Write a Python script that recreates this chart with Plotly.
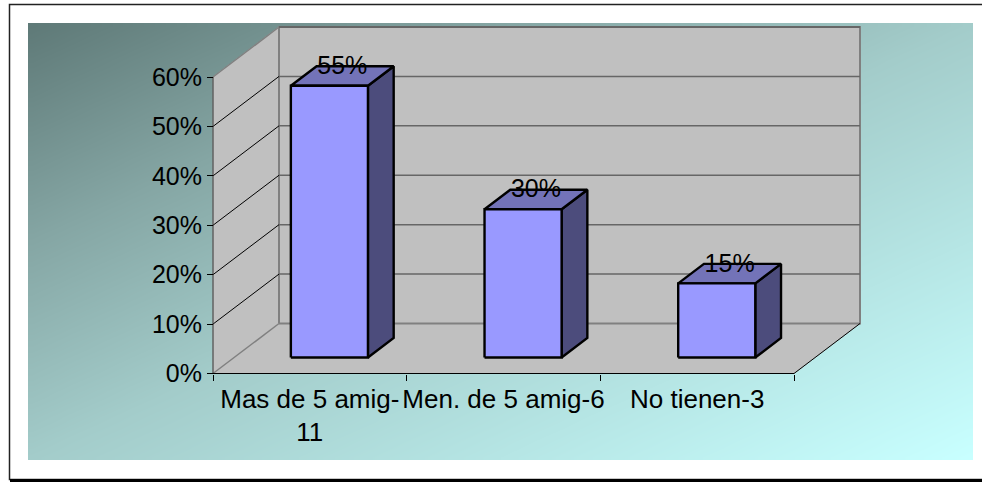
import numpy as np
import plotly.graph_objects as go

CATEGORIES = ["Mas de 5 amig-<br>11", "Men. de 5 amig-6", "No tienen-3"]
VALUES = [55, 30, 15]
Y_TICKS = [0, 10, 20, 30, 40, 50, 60]

WIDTH, HEIGHT = 982, 482
FONT = "Liberation Sans"
FONT_SIZE = 25

# pixel position of the front plot box, the scales are derived from it
X0_PX, X3_PX = 213, 794
Y0_PX, Y60_PX = 373.5, 77
PX_PER_CAT = (X3_PX - X0_PX) / 3
PX_PER_PCT = (Y0_PX - Y60_PX) / 60

# oblique projection of the depth axis
DEPTH_X = 66 / PX_PER_CAT
DEPTH_Y = 50 / PX_PER_PCT
BAR_D0, BAR_D1 = 0.32, 0.71
BAR_W = 0.398
BAR_SHIFT = -0.008

WALL = "#c0c0c0"
EDGE = "#808080"
FRONT, TOP, SIDE = "#9999ff", "#7373b8", "#4c4c7c"


def px_x(px):
    return (px - X0_PX) / PX_PER_CAT


def px_y(px):
    return (Y0_PX - px) / PX_PER_PCT


def proj(x, y, d=0.0):
    return x + d * DEPTH_X, y + d * DEPTH_Y


def poly(pts, fill=None, color="#000000", width=1.0):
    xs = [p[0] for p in pts]
    ys = [p[1] for p in pts]
    return go.Scatter(x=xs, y=ys, mode="lines",
                      fill="toself" if fill else None,
                      fillcolor=fill,
                      line=dict(color=color, width=width),
                      hoverinfo="skip", showlegend=False)


fig = go.Figure()

# gradient panel behind the chart, x and y are brick edges so it stops at the panel
gx = np.linspace(px_x(28), px_x(973), 121)
gy = np.linspace(px_y(460), px_y(23), 71)
u, v = np.meshgrid(np.linspace(0, 1, 120), np.linspace(1, 0, 70))
fig.add_trace(go.Heatmap(x=gx, y=gy, z=(u + v) / 2, zmin=0, zmax=1,
                         zsmooth="best", showscale=False, hoverinfo="skip",
                         colorscale=[[0, "#5f7a78"], [0.25, "#85a6a4"],
                                     [0.5, "#a3ccca"], [1, "#c8ffff"]]))

ymax = Y_TICKS[-1]
# floor, side wall, back wall
fig.add_trace(poly([proj(0, 0), proj(3, 0), proj(3, 0, 1), proj(0, 0, 1), proj(0, 0)],
                   fill=WALL, color=WALL))
fig.add_trace(poly([proj(0, 0), proj(0, ymax), proj(0, ymax, 1), proj(0, 0, 1), proj(0, 0)],
                   fill=WALL, color=WALL))
fig.add_trace(poly([proj(0, 0, 1), proj(3, 0, 1), proj(3, ymax, 1), proj(0, ymax, 1), proj(0, 0, 1)],
                   fill=WALL, color=EDGE, width=2))

# gridlines on both walls
for t in Y_TICKS[1:-1]:
    fig.add_trace(poly([proj(0, t), proj(0, t, 1)], color="#000000", width=1))
    fig.add_trace(poly([proj(0, t, 1), proj(3, t, 1)], color="#666666", width=1.5))
fig.add_trace(poly([proj(0, 0), proj(0, 0, 1)], color=EDGE, width=1.5))
fig.add_trace(poly([proj(0, ymax), proj(0, ymax, 1)], color=EDGE, width=1.5))
fig.add_trace(poly([proj(0, ymax, 1), proj(3, ymax, 1)], color="#666666", width=2))
fig.add_trace(poly([proj(3, 0), proj(3, 0, 1)], color="#000000", width=1))

# axis lines at the front
fig.add_trace(poly([proj(0, 0), proj(0, ymax)], color="#333333", width=1))
fig.add_trace(poly([proj(0, 0), proj(3, 0)], color="#000000", width=1))

# bars
for i, val in enumerate(VALUES):
    x0 = i + 0.5 + BAR_SHIFT - BAR_W / 2
    x1 = i + 0.5 + BAR_SHIFT + BAR_W / 2
    front = [proj(x0, 0, BAR_D0), proj(x1, 0, BAR_D0), proj(x1, val, BAR_D0),
             proj(x0, val, BAR_D0), proj(x0, 0, BAR_D0)]
    side = [proj(x1, 0, BAR_D0), proj(x1, 0, BAR_D1), proj(x1, val, BAR_D1),
            proj(x1, val, BAR_D0), proj(x1, 0, BAR_D0)]
    top = [proj(x0, val, BAR_D0), proj(x1, val, BAR_D0), proj(x1, val, BAR_D1),
           proj(x0, val, BAR_D1), proj(x0, val, BAR_D0)]
    fig.add_trace(poly(side, fill=SIDE, width=2.4))
    fig.add_trace(poly(top, fill=TOP, width=2.4))
    fig.add_trace(poly(front, fill=FRONT, width=2.4))

# value labels sit just above the back edge of each bar top
lab_x = [i + 0.5 + BAR_SHIFT + (BAR_D0 + BAR_D1) / 2 * DEPTH_X for i in range(len(VALUES))]
lab_y = [v + BAR_D1 * DEPTH_Y - 0.3 for v in VALUES]
fig.add_trace(go.Scatter(x=lab_x, y=lab_y, mode="text",
                         text=[f"{v}%" for v in VALUES],
                         textposition="middle center",
                         textfont=dict(family=FONT, size=FONT_SIZE, color="#000000"),
                         hoverinfo="skip", showlegend=False))

# outer frame
fig.add_shape(type="rect", xref="paper", yref="paper", layer="below",
              x0=9.5 / WIDTH, x1=1.01, y0=1 - 479.5 / HEIGHT, y1=1 - 4.5 / HEIGHT,
              line=dict(color="#222222", width=1.5), fillcolor="#ffffff")
fig.add_shape(type="line", xref="paper", yref="paper", layer="above",
              x0=10 / WIDTH, x1=1, y0=1 - 480.5 / HEIGHT, y1=1 - 480.5 / HEIGHT,
              line=dict(color="#000000", width=3))

fig.update_layout(
    width=WIDTH, height=HEIGHT,
    margin=dict(l=0, r=0, t=0, b=0),
    paper_bgcolor="#ffffff", plot_bgcolor="rgba(0,0,0,0)",
    font=dict(family=FONT, size=FONT_SIZE, color="#000000"),
    showlegend=False,
    xaxis=dict(range=[px_x(0), px_x(WIDTH)], domain=[0, 1],
               anchor="free", position=1 - Y0_PX / HEIGHT,
               showgrid=False, zeroline=False, showline=False,
               tickmode="array", tickvals=[0.5, 1.5, 2.5], ticktext=CATEGORIES,
               ticks="", ticklen=0, tickangle=0, ticklabelstandoff=7,
               tickfont=dict(size=26),
               minor=dict(tickmode="array", tickvals=[0, 1, 2, 3], ticks="outside",
                          ticklen=6, tickcolor="#000000", showgrid=False),
               fixedrange=True),
    yaxis=dict(range=[px_y(HEIGHT), px_y(0)], domain=[0, 1],
               anchor="free", position=X0_PX / WIDTH,
               showgrid=False, zeroline=False, showline=False,
               tickmode="array", tickvals=Y_TICKS,
               ticktext=[f"{t}%" for t in Y_TICKS],
               ticks="outside", ticklen=6, tickcolor="#000000",
               fixedrange=True),
)

# browser default body margin would push the chart off by 8px
fig.write_html("out.html", config={"displayModeBar": False},
               post_script="document.body.style.margin='0';")
